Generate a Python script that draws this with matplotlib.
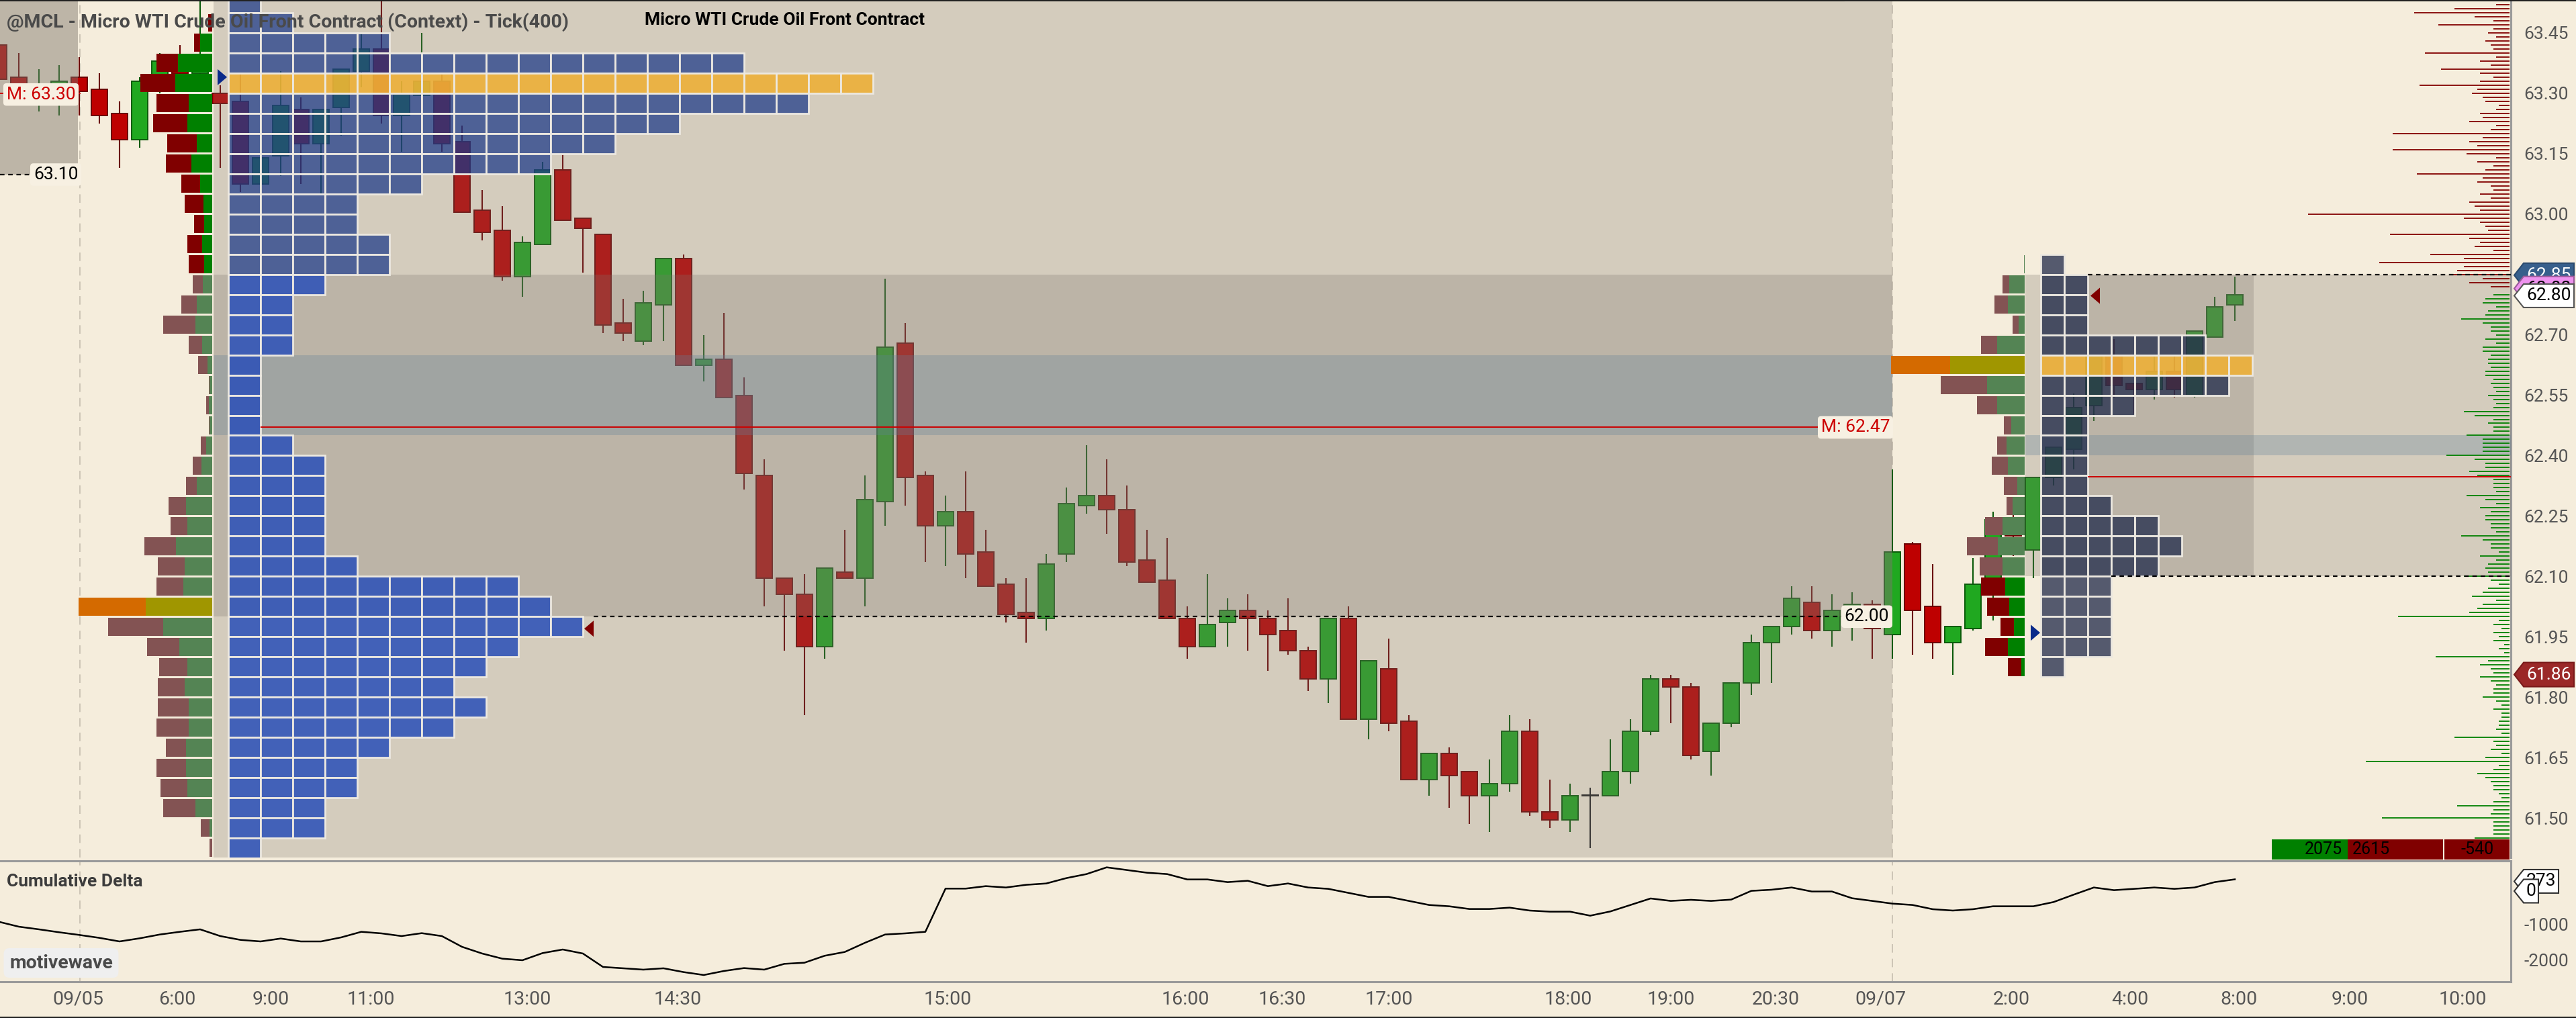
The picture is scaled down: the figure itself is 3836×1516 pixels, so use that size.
import matplotlib
matplotlib.use("Agg")
import matplotlib.pyplot as plt
from matplotlib.patches import Rectangle, Polygon
from matplotlib.lines import Line2D
import numpy as np

plt.rcParams['font.family'] = ['Roboto', 'DejaVu Sans']

# ---------------- data ----------------
# Tick(400) bars: open / high / low / close
opens = [63.42, 63.34, 63.30, 63.30, 63.34, 63.31, 63.25, 63.185, 63.33, 63.38,
         63.35, 63.30, 63.28, 63.075, 63.145, 63.26, 63.175, 63.265, 63.355, 63.41,
         63.245, 63.295, 63.33, 63.18, 63.01, 62.96, 62.845, 62.925, 63.11, 62.99,
         62.95, 62.73, 62.685, 62.775, 62.89, 62.625, 62.64, 62.55, 62.35, 62.095,
         62.055, 61.925, 62.11, 62.095, 62.285, 62.68, 62.35, 62.225, 62.26, 62.16,
         62.08, 62.01, 61.995, 62.155, 62.275, 62.30, 62.265, 62.14, 62.09, 61.995,
         61.925, 61.985, 62.015, 61.995, 61.965, 61.915, 61.845, 61.995, 61.745, 61.87,
         61.74, 61.595, 61.66, 61.615, 61.555, 61.585, 61.715, 61.515, 61.495, 61.555,
         61.555, 61.615, 61.715, 61.845, 61.825, 61.665, 61.735, 61.835, 61.935, 61.975,
         62.035, 61.965, 62.00, 62.03, 61.955, 62.18, 62.025, 61.935, 61.97, 62.08,
         62.24, 62.165, 62.345, 62.415, 62.525, 62.65, 62.58, 62.565, 62.61, 62.55,
         62.695, 62.775]
highs = [63.44, 63.40, 63.36, 63.37, 63.39, 63.35, 63.28, 63.34, 63.40, 63.42,
         63.55, 63.32, 63.35, 63.21, 63.355, 63.29, 63.26, 63.36, 63.45, 63.56,
         63.33, 63.45, 63.35, 63.22, 63.06, 63.02, 62.945, 63.13, 63.15, 62.99,
         62.95, 62.79, 62.81, 62.89, 62.90, 62.70, 62.755, 62.595, 62.39, 62.095,
         62.105, 62.12, 62.215, 62.35, 62.84, 62.73, 62.36, 62.30, 62.36, 62.215,
         62.095, 62.095, 62.155, 62.32, 62.425, 62.39, 62.325, 62.215, 62.195, 62.025,
         62.105, 62.045, 62.055, 62.015, 62.045, 61.925, 61.995, 62.025, 61.89, 61.945,
         61.755, 61.66, 61.675, 61.615, 61.645, 61.755, 61.745, 61.595, 61.585, 61.575,
         61.695, 61.745, 61.855, 61.855, 61.835, 61.735, 61.835, 61.955, 61.975, 62.075,
         62.075, 62.055, 62.06, 62.04, 62.365, 62.185, 62.13, 61.975, 62.145, 62.26,
         62.27, 62.345, 62.42, 62.555, 62.65, 62.69, 62.58, 62.65, 62.65, 62.71,
         62.795, 62.845]
lows = [63.32, 63.27, 63.255, 63.245, 63.245, 63.225, 63.115, 63.165, 63.30, 63.32,
        63.31, 63.115, 63.055, 63.035, 63.095, 63.075, 63.05, 63.195, 63.315, 63.225,
        63.155, 63.295, 63.155, 63.005, 62.935, 62.835, 62.795, 62.925, 62.985, 62.855,
        62.705, 62.685, 62.675, 62.685, 62.625, 62.585, 62.545, 62.315, 62.025, 61.915,
        61.755, 61.895, 62.095, 62.025, 62.225, 62.275, 62.135, 62.125, 62.095, 62.075,
        61.985, 61.935, 61.965, 62.135, 62.255, 62.205, 62.125, 62.085, 61.995, 61.895,
        61.925, 61.925, 61.915, 61.865, 61.905, 61.815, 61.785, 61.745, 61.695, 61.715,
        61.595, 61.555, 61.525, 61.485, 61.465, 61.565, 61.505, 61.475, 61.465, 61.425,
        61.555, 61.585, 61.705, 61.735, 61.645, 61.605, 61.725, 61.805, 61.835, 61.955,
        61.945, 61.925, 61.94, 61.895, 61.895, 61.905, 61.895, 61.855, 61.965, 61.99,
        62.15, 62.095, 62.325, 62.365, 62.485, 62.545, 62.505, 62.54, 62.545, 62.545,
        62.695, 62.735]
closes = [63.335, 63.305, 63.31, 63.33, 63.305, 63.245, 63.185, 63.33, 63.38, 63.35,
          63.37, 63.275, 63.075, 63.14, 63.27, 63.175, 63.26, 63.36, 63.41, 63.245,
          63.30, 63.33, 63.175, 63.005, 62.955, 62.845, 62.93, 63.11, 62.985, 62.965,
          62.725, 62.705, 62.78, 62.89, 62.625, 62.64, 62.545, 62.355, 62.095, 62.055,
          61.925, 62.12, 62.095, 62.29, 62.67, 62.345, 62.225, 62.26, 62.155, 62.075,
          62.005, 61.995, 62.13, 62.28, 62.30, 62.265, 62.135, 62.085, 61.995, 61.925,
          61.98, 62.015, 61.995, 61.955, 61.915, 61.845, 61.995, 61.745, 61.89, 61.735,
          61.595, 61.66, 61.605, 61.555, 61.585, 61.715, 61.515, 61.495, 61.555, 61.555,
          61.615, 61.715, 61.845, 61.825, 61.655, 61.735, 61.835, 61.935, 61.975, 62.045,
          61.965, 62.015, 62.03, 61.97, 62.16, 62.015, 61.935, 61.975, 62.08, 62.24,
          62.20, 62.345, 62.42, 62.52, 62.65, 62.575, 62.565, 62.61, 62.565, 62.71,
          62.77, 62.80]

# cumulative delta at each bar
cum_delta = [-918, -1057, -1132, -1214, -1289, -1371, -1472, -1384, -1277, -1201,
             -1132, -1321, -1428, -1472, -1390, -1472, -1472, -1358, -1201, -1245,
             -1321, -1239, -1321, -1623, -1811, -1956, -2000, -1799, -1698, -1811,
             -2189, -2226, -2264, -2226, -2333, -2415, -2302, -2220, -2264, -2101,
             -2069, -1874, -1767, -1510, -1277, -1245, -1201, 13, 13, 82,
             44, 119, 157, 308, 421, 610, 535, 459, 421, 270,
             270, 195, 233, 82, 157, 44, 6, -107, -220, -220,
             -333, -447, -484, -560, -560, -522, -604, -635, -635, -748,
             -629, -447, -264, -333, -302, -333, -296, -50, -19, 44,
             -69, -69, -258, -333, -409, -447, -566, -604, -566, -484,
             -484, -484, -365, -157, 44, -31, 6, 44, 6, 44,
             195, 273]

# 09/05 context profile (rows of 0.05 from 63.50 down): volume blocks per row
left_cells = [1, 2, 5, 16, 20, 18, 14, 12, 10, 6, 4, 4, 5, 5, 3, 2, 2, 2, 1, 1, 1, 1,
              2, 3, 3, 3, 3, 3, 4, 9, 10, 11, 9, 8, 7, 8, 7, 5, 4, 4, 3, 3, 1]
left_cells_top = 63.50
left_poc = 63.30
# bid/ask profile left of it (rows of 0.05 from 63.45 down)
left_sell = [7, 10, 36, 58, 54, 56, 49, 42, 31, 31, 17, 25, 26, 17, 25, 54, 22, 16, 2, 4, 2,
             9, 14, 18, 29, 27, 53, 45, 45, 112, 92, 54, 47, 45, 52, 54, 33, 49, 44, 54, 15, 4]
left_buy = [0, 20, 57, 62, 39, 42, 26, 35, 20, 15, 13, 17, 13, 16, 26, 28, 17, 8, 4, 6, 4,
            10, 18, 26, 44, 42, 60, 46, 48, 111, 82, 55, 42, 46, 39, 39, 44, 44, 42, 28, 4, 0]
left_delta_top = 63.45
left_delta_poc = 62.00

# 09/07 profile (rows of 0.05 from 62.85 down)
right_cells = [1, 2, 2, 2, 7, 9, 8, 4, 2, 2, 2, 2, 3, 5, 6, 5, 3, 3, 3, 3, 1]
right_sell = [0, 14, 27, 12, 33, 122, 96, 41, 16, 20, 33, 28, 12, 36, 63, 47, 50, 45, 28, 47, 28]
right_buy = [2, 32, 35, 13, 57, 153, 77, 57, 27, 37, 35, 15, 25, 46, 55, 46, 40, 32, 22, 35, 7]
right_top = 62.85
right_poc = 62.60

# volume by price at the right edge (one value per 0.01 tick)
ask_top = 63.53
ask_vol = [20, 20, 82, 142, 52, 24, 106, 24, 32, 20, 36, 28, 24, 126, 20, 44, 28, 102, 44, 24,
           44, 134, 48, 56, 40, 36, 16, 20, 44, 40, 60, 20, 28, 174, 40, 60, 48, 174, 64, 20,
           48, 24, 36, 138, 40, 48, 28, 24, 44, 28, 60, 52, 44, 300, 68, 44, 36, 32, 178, 60,
           44, 52, 24, 118, 68, 194, 68, 78, 86, 40, 60, 28]
bid_top = 62.81
bid_vol = [0, 24, 36, 40, 20, 32, 36, 72, 40, 28, 28, 20, 36, 20, 40, 40, 28, 32, 32, 28,
           36, 36, 24, 28, 24, 20, 32, 24, 20, 24, 68, 52, 24, 32, 24, 24, 64, 40, 40, 40,
           40, 94, 52, 36, 36, 60, 48, 24, 24, 24, 20, 64, 36, 20, 44, 28, 36, 36, 28, 28,
           20, 72, 40, 28, 28, 16, 44, 20, 32, 36, 32, 68, 28, 16, 32, 40, 56, 20, 40, 48,
           60, 166, 16, 24, 12, 24, 16, 24, 8, 16, 8, 110, 32, 44, 28, 24, 44, 28, 20, 24,
           24, 40, 20, 12, 24, 12, 12, 16, 16, 20, 12, 82, 24, 20, 28, 12, 36, 214, 16, 24,
           48, 36, 28, 24, 24, 16, 12, 24, 78, 24, 28, 190, 24, 24, 24, 24, 52]

buy_total = 2075
sell_total = 2615

price_ticks = [61.50, 61.65, 61.80, 61.95, 62.10, 62.25, 62.40, 62.55, 62.70,
               63.00, 63.15, 63.30, 63.45]
delta_ticks = [-2000, -1000]
time_pos = [3.93, 8.87, 13.52, 18.49, 26.23, 33.7, 47.1, 58.9, 63.7, 69.0, 77.9,
            83.0, 88.2, 93.4, 99.9, 105.8, 111.2, 116.7, 122.3]
time_labels = ['09/05', '6:00', '9:00', '11:00', '13:00', '14:30', '15:00', '16:00',
               '16:30', '17:00', '18:00', '19:00', '20:30', '09/07', '2:00', '4:00',
               '8:00', '9:00', '10:00']

# ---------------- layout / style ----------------
W, H = 3836, 1516
AXR = 3739
BG = '#F5EDDC'
SHADE = '#7E766D'
BAND = '#628299'
CELL_EDGE = '#ECE8E0'
R_BODY, R_EDGE = '#BE0000', '#6A0000'
G_BODY, G_EDGE = '#20A820', '#0A5A0A'
LABEL = '#555555'


def px2x(p):
    return (p + 2) / 30.0


fig = plt.figure(figsize=(W / 100, H / 100), dpi=100, facecolor=BG)
ax = fig.add_axes([0, 239 / H, AXR / W, 1277 / H])
ax2 = fig.add_axes([0, 54 / H, AXR / W, 180 / H])
for a in (ax, ax2):
    a.set_facecolor('none')
    a.set_xlim(px2x(0), px2x(AXR))
ax.set_ylim(61.4016, 63.5317)
ax2.set_ylim(-2604, 792)

# candles
n = len(opens)
xb = np.arange(n)
o = np.array(opens); c = np.array(closes)
hi = np.array(highs); lo = np.array(lows)
body = np.where(c > o, G_BODY, np.where(c < o, R_BODY, '#222222'))
edge = np.where(c > o, G_EDGE, np.where(c < o, R_EDGE, '#222222'))
ax.vlines(xb, lo, hi, colors=edge, lw=1.5, zorder=2)
ax.bar(xb, np.maximum(np.abs(c - o), 0.002), bottom=np.minimum(o, c), width=0.77,
       color=body, edgecolor=edge, linewidth=1.4, zorder=2.1)

ytop = ax.get_ylim()[1]
ybot = ax.get_ylim()[0]


def shade(x0, x1, y0, y1, col=SHADE, al=0.27):
    ax.add_patch(Rectangle((px2x(x0), y0), px2x(x1) - px2x(x0), y1 - y0,
                           facecolor=col, alpha=al, lw=0, zorder=3))


# prior session box (top-left)
shade(0, 116, 63.098, ytop, al=0.47)
# 09/05 session box, value area, band
shade(318, 2818, ybot, ytop)
shade(318, 2818, 62.00, 62.85)
shade(318, 2818, 62.45, 62.65, col=BAND, al=0.3)
# 09/07 session
shade(3016, AXR, 62.10, 62.85)
shade(3040, 3356, 62.10, 62.85)
shade(3016, AXR, 62.40, 62.45, col=BAND, al=0.3)


def cells(counts, top, x0px, cwpx, colfun, poc):
    cw = cwpx / 30.0
    for k, cnt in enumerate(counts):
        p = round(top - 0.05 * k, 2)
        if cnt == 0:
            continue
        lefts = px2x(x0px) + cw * np.arange(cnt)
        col = (0.93, 0.69, 0.22, 0.9) if abs(p - poc) < 1e-6 else colfun(p)
        ax.bar(lefts, 0.05, bottom=p, width=cw, align='edge', color=col,
               edgecolor=CELL_EDGE, linewidth=2.0, zorder=4)


cells(left_cells, left_cells_top, 340, 48,
      lambda p: (0.10, 0.22, 0.53, 0.72) if p >= 62.85 else (0.16, 0.31, 0.72, 0.85), left_poc)
cells(right_cells, right_top, 3039, 35,
      lambda p: (0.12, 0.16, 0.29, 0.75), right_poc)


def delta_profile(sell, buy, top, right_px, k, bright, poc):
    right = px2x(right_px)
    for j, (s, b) in enumerate(zip(sell, buy)):
        p = round(top - 0.05 * j, 2)
        if abs(p - poc) < 1e-6:
            cs, cb = '#D46A00', '#A09600'
        elif bright(p):
            cs, cb = '#800000', '#008000'
        else:
            cs, cb = '#835353', '#548454'
        bw = b * k / 30.0
        sw = s * k / 30.0
        ax.barh(p + 0.025, bw, left=right - bw, height=0.045, color=cb, lw=0, zorder=5)
        ax.barh(p + 0.025, sw, left=right - bw - sw, height=0.045, color=cs, lw=0, zorder=5)


delta_profile(left_sell, left_buy, left_delta_top, 316, 1 / 1.12,
              lambda p: p >= 62.85, left_delta_poc)
delta_profile(right_sell, right_buy, right_top, 3015, 1 / 1.38,
              lambda p: p < 62.10, right_poc)

# volume-at-price lines on the right edge
xr = px2x(AXR - 2)
ask_p = [round(ask_top - 0.01 * k, 2) for k in range(len(ask_vol))]
bid_p = [round(bid_top - 0.01 * k, 2) for k in range(len(bid_vol))]
ax.hlines(ask_p, xr - np.array(ask_vol) / 30.0, xr, colors='#820000', lw=1.3, zorder=6)
ax.hlines(bid_p, xr - np.array(bid_vol) / 30.0, xr, colors='#008000', lw=1.3, zorder=6)

# session lines
dash = (0, (3, 2.5))
ax.hlines(62.47, px2x(388), px2x(2711), colors='#CC0000', lw=1.4, zorder=6)
ax.hlines(62.00, px2x(884), px2x(2743), colors='black', lw=1.6, linestyles=[dash], zorder=6)
ax.hlines(63.30, px2x(0), px2x(120), colors='#CC0000', lw=1.4, zorder=6)
ax.hlines(63.098, px2x(0), px2x(49), colors='black', lw=1.6, linestyles=[dash], zorder=6)
ax.hlines(62.85, px2x(3109), px2x(AXR), colors='black', lw=1.6, linestyles=[dash], zorder=6)
ax.hlines(62.10, px2x(3144), px2x(AXR), colors='black', lw=1.6, linestyles=[dash], zorder=6)
ax.hlines(62.347, px2x(3109), px2x(AXR), colors='#CC0000', lw=1.4, zorder=6)
for a in (ax, ax2):
    for xp in (119, 2818):
        a.axvline(px2x(xp), color='#C9C1B2', lw=1.3, ls=(0, (7, 5)), zorder=1)


def tri(xpx, yc, right, col):
    x0, x1 = px2x(xpx), px2x(xpx + 14)
    h = 0.02
    if right:
        ax.fill([x0, x1, x0], [yc - h, yc, yc + h], color=col, lw=0, zorder=7)
    else:
        ax.fill([x1, x0, x1], [yc - h, yc, yc + h], color=col, lw=0, zorder=7)


tri(324, 63.34, True, '#0A2A8A')
tri(870, 61.97, False, '#800000')
tri(3113, 62.797, False, '#800000')
tri(3024, 61.96, True, '#0A2A8A')


def box_label(xpx, y, txt, col):
    ax.text(px2x(xpx), y, txt, ha='center', va='center', color=col, fontsize=19, zorder=8,
            clip_on=True, bbox=dict(boxstyle='round,pad=0.18', fc='#F7F0E2', ec='none'))


box_label(61, 63.297, 'M: 63.30', '#CC0000')
box_label(83, 63.098, '63.10', 'black')
box_label(2780, 62.00, '62.00', 'black')
box_label(2763, 62.47, 'M: 62.47', '#CC0000')
box_label(2781, 63.556, '63.55', 'black')

# buy / sell / delta summary
vs = 142.0 / sell_total
red_r = 3638
red_l = red_r - sell_total * vs
grn_l = red_l - buy_total * vs
yc = 61.4217
ax.barh(yc, (red_r - red_l) / 30, left=px2x(red_l), height=0.05, color='#800000', lw=0,
        zorder=8, clip_on=False)
ax.barh(yc, (red_l - grn_l) / 30, left=px2x(grn_l), height=0.05, color='#008000', lw=0,
        zorder=8, clip_on=False)
ax.barh(yc, 97 / 30, left=px2x(3640), height=0.05, color='#800000', lw=0, zorder=8,
        clip_on=False)
ax.text(px2x(red_l - 8), yc, str(buy_total), ha='right', va='center', fontsize=18,
        color='black', zorder=9)
ax.text(px2x(red_l + 7), yc, str(sell_total), ha='left', va='center', fontsize=18,
        color='black', zorder=9)
ax.text(px2x(3689), yc, str(buy_total - sell_total), ha='center', va='center', fontsize=18,
        color='black', zorder=9)

# axes styling
for a in (ax, ax2):
    for s in a.spines.values():
        s.set_visible(False)
    a.spines['right'].set_visible(True)
    a.spines['right'].set_color('#9A9A9A')
    a.spines['right'].set_linewidth(2.2)
    a.yaxis.tick_right()
    a.tick_params(axis='y', length=0, pad=14, labelsize=19, labelcolor=LABEL)
ax2.spines['top'].set_visible(True)
ax2.spines['bottom'].set_visible(True)
for s in ('top', 'bottom'):
    ax2.spines[s].set_color('#9A9A9A')
    ax2.spines[s].set_linewidth(2.2)

ax.set_xticks([])
ax.set_yticks(price_ticks)
ax.set_yticklabels(['%.2f' % p for p in price_ticks])
ax2.set_yticks(delta_ticks)
ax2.set_yticklabels([str(v) for v in delta_ticks])
ax2.set_xticks(time_pos)
ax2.set_xticklabels(time_labels)
ax2.tick_params(axis='x', length=0, pad=9, labelsize=20.5, labelcolor=LABEL)

# cumulative delta line
ax2.plot(np.arange(len(cum_delta)), cum_delta, color='black', lw=1.8, zorder=5)


def tag(a, yc, txt, fc, tc, ec, hpx, x1=94, z=10):
    t = a.get_yaxis_transform()
    y0, y1 = a.get_ylim()
    ppx = (y1 - y0) / (a.get_position().height * H)
    h = hpx / 2 * ppx
    xs = [(AXR + d) / AXR for d in (5, 19, x1, x1, 19)]
    ys = [yc, yc + h, yc + h, yc - h, yc - h]
    a.add_patch(Polygon(list(zip(xs, ys)), closed=True, transform=t, fc=fc, ec=ec, lw=1.5,
                        clip_on=False, zorder=z))
    a.text((AXR + (19 + x1) / 2) / AXR, yc, txt, transform=t, ha='center', va='center',
           color=tc, fontsize=19, clip_on=False, zorder=z + 1)


tag(ax, 62.848, '62.85', '#375F8C', 'white', '#2A4A6E', 36, z=10)
tag(ax, 62.815, '62.82', '#EE92EE', 'black', '#9A5A9A', 36, z=12)
tag(ax, 62.797, '62.80', 'white', 'black', '#555555', 35, z=14)
tag(ax, 61.856, '61.86', '#9B2828', 'white', '#7A1A1A', 36, z=10)
tag(ax2, 217, '273', 'white', 'black', '#333333', 35, x1=71, z=10)
tag(ax2, -57, '0', 'white', 'black', '#333333', 35, x1=41, z=12)

# texts
fig.text(10 / W, 1 - 33 / H, '@MCL - Micro WTI Crude Oil Front Contract (Context) - Tick(400)',
         ha='left', va='center', fontsize=20.5, fontweight='bold', color='#4A4A4A', zorder=20)
fig.text(960 / W, 1 - 30 / H, 'Micro WTI Crude Oil Front Contract', ha='left', va='center',
         fontsize=19, fontweight='bold', color='black', zorder=20)
fig.text(10 / W, 1 - 1313 / H, 'Cumulative Delta', ha='left', va='center', fontsize=19,
         fontweight='bold', color='#3C3C3C', zorder=20)
fig.text(91 / W, 1 - 1434 / H, 'motivewave', ha='center', va='center', fontsize=20.5,
         fontweight='bold', color='#4A4A4A', zorder=20,
         bbox=dict(boxstyle='round,pad=0.3', fc='#EFEFEF', ec='none'))

# thin frame lines at the top and bottom edges
fig.add_artist(Line2D([0, 1], [1 - 1 / H, 1 - 1 / H], color='#222222', lw=1.5))
fig.add_artist(Line2D([0, 1], [1 / H, 1 / H], color='#222222', lw=1.5))

fig.savefig('out.png', dpi=100, facecolor=BG)
